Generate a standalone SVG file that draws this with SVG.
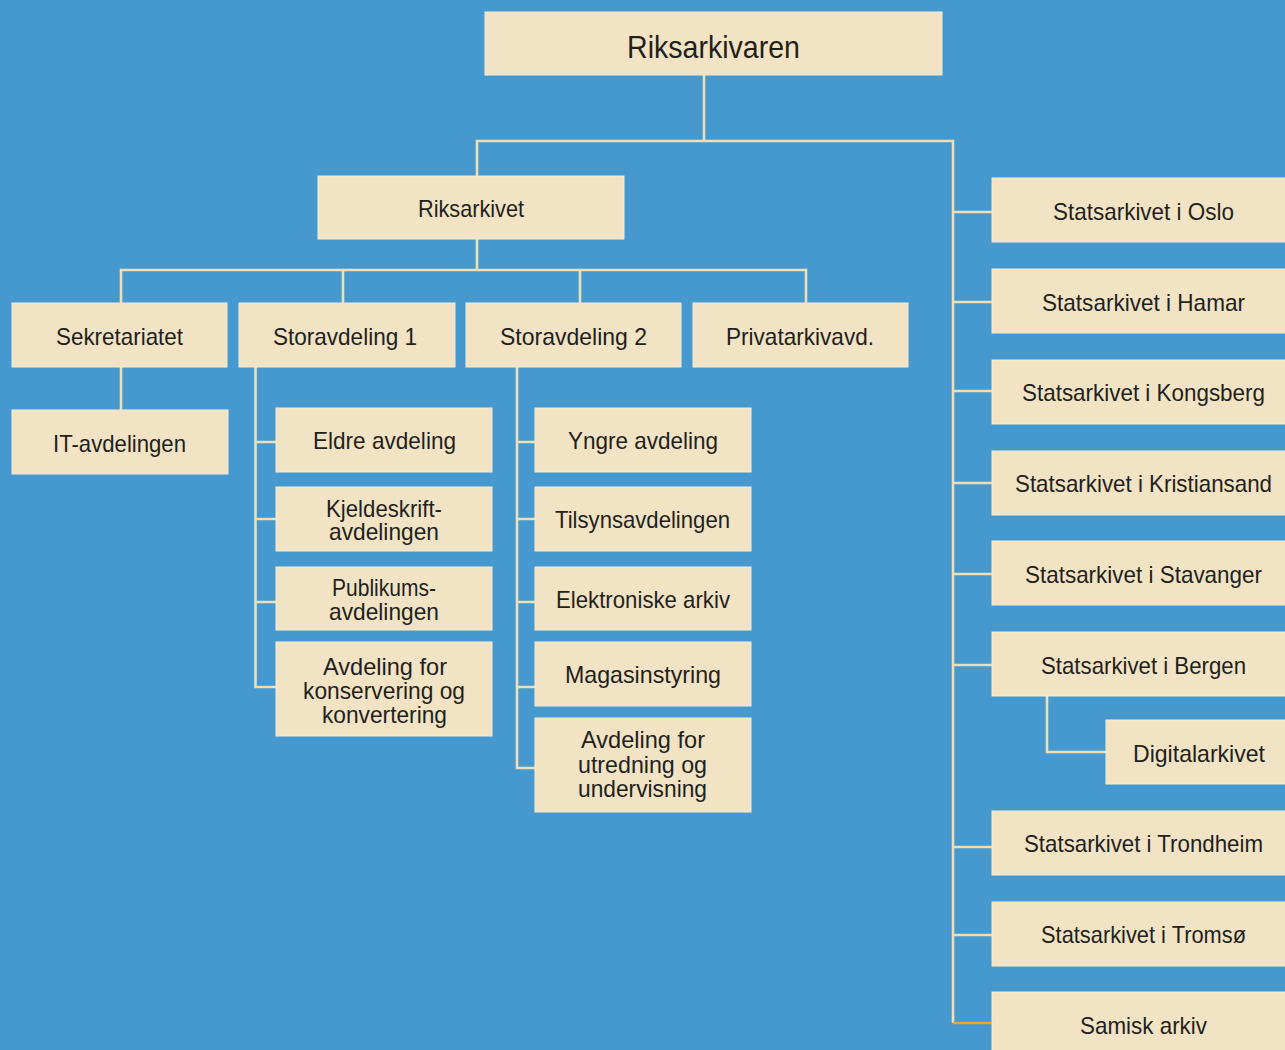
<svg xmlns="http://www.w3.org/2000/svg" width="1285" height="1050" viewBox="0 0 1285 1050">
<style>
.b{fill:#f1e3c4;stroke:#f6ecd4;stroke-width:1}
.t{font-family:"Liberation Sans",Arial,sans-serif;font-size:24px;fill:#231f1c;text-anchor:middle}
.big{font-size:32px}
.c{fill:none;stroke:#efdfb6;stroke-width:2.6}
</style>
<rect width="1285" height="1050" fill="#4599cf"/>
<g id="connectors">
<path class="c" d="M704 75V141M477 176V141H953V1023"/>
<path class="c" d="M477 239V270M121 303V270H806V303M343 270V303M580 270V303"/>
<path class="c" d="M121 367V410"/>
<path class="c" d="M255.5 367V687H276M255.5 442H276M255.5 519H276M255.5 602H276"/>
<path class="c" d="M517 367V768H535M517 442H535M517 519H535M517 602H535M517 687H535"/>
<path class="c" d="M953 212H992M953 302H992M953 391H992M953 483H992M953 574H992M953 665H992M953 847H992M953 935H992"/>
<path class="c" d="M1047 696V752H1106"/>
<path fill="none" stroke="#f0a334" stroke-width="2.6" d="M953 1023H992"/>
</g>
<g id="riksarkivaren"><rect class="b" x="485" y="12" width="457" height="63"/><text class="t big" x="713.5" y="58" textLength="173" lengthAdjust="spacingAndGlyphs">Riksarkivaren</text></g>
<g id="riksarkivet"><rect class="b" x="318" y="176" width="306" height="63"/><text class="t" x="471" y="217" textLength="106" lengthAdjust="spacingAndGlyphs">Riksarkivet</text></g>
<g id="sekretariatet"><rect class="b" x="12" y="303" width="215" height="64"/><text class="t" x="119.5" y="345" textLength="127" lengthAdjust="spacingAndGlyphs">Sekretariatet</text></g>
<g id="storavdeling1"><rect class="b" x="239" y="303" width="216" height="64"/><text class="t" x="345" y="345" textLength="144" lengthAdjust="spacingAndGlyphs">Storavdeling 1</text></g>
<g id="storavdeling2"><rect class="b" x="466" y="303" width="215" height="64"/><text class="t" x="573.5" y="345" textLength="147" lengthAdjust="spacingAndGlyphs">Storavdeling 2</text></g>
<g id="privatarkivavd"><rect class="b" x="693" y="303" width="215" height="64"/><text class="t" x="800" y="345" textLength="148" lengthAdjust="spacingAndGlyphs">Privatarkivavd.</text></g>
<g id="it-avdelingen"><rect class="b" x="12" y="410" width="216" height="64"/><text class="t" x="119.5" y="452" textLength="133" lengthAdjust="spacingAndGlyphs">IT-avdelingen</text></g>
<g id="eldre"><rect class="b" x="276" y="408" width="216" height="64"/><text class="t" x="384.5" y="449" textLength="143" lengthAdjust="spacingAndGlyphs">Eldre avdeling</text></g>
<g id="kjeldeskrift"><rect class="b" x="276" y="487" width="216" height="64"/><text class="t" x="384" y="517" textLength="116" lengthAdjust="spacingAndGlyphs">Kjeldeskrift-</text><text class="t" x="384" y="540" textLength="110" lengthAdjust="spacingAndGlyphs">avdelingen</text></g>
<g id="publikums"><rect class="b" x="276" y="567" width="216" height="63"/><text class="t" x="384" y="596" textLength="104" lengthAdjust="spacingAndGlyphs">Publikums-</text><text class="t" x="384" y="620" textLength="110" lengthAdjust="spacingAndGlyphs">avdelingen</text></g>
<g id="konservering"><rect class="b" x="276" y="642" width="216" height="94"/><text class="t" x="385" y="675" textLength="124" lengthAdjust="spacingAndGlyphs">Avdeling for</text><text class="t" x="384" y="699" textLength="162" lengthAdjust="spacingAndGlyphs">konservering og</text><text class="t" x="384.5" y="723" textLength="125" lengthAdjust="spacingAndGlyphs">konvertering</text></g>
<g id="yngre"><rect class="b" x="535" y="408" width="216" height="64"/><text class="t" x="643" y="449" textLength="150" lengthAdjust="spacingAndGlyphs">Yngre avdeling</text></g>
<g id="tilsyn"><rect class="b" x="535" y="487" width="216" height="64"/><text class="t" x="642.5" y="528" textLength="175" lengthAdjust="spacingAndGlyphs">Tilsynsavdelingen</text></g>
<g id="elektroniske"><rect class="b" x="535" y="567" width="216" height="63"/><text class="t" x="643" y="608" textLength="174" lengthAdjust="spacingAndGlyphs">Elektroniske arkiv</text></g>
<g id="magasin"><rect class="b" x="535" y="642" width="216" height="64"/><text class="t" x="643" y="683" textLength="156" lengthAdjust="spacingAndGlyphs">Magasinstyring</text></g>
<g id="utredning"><rect class="b" x="535" y="718" width="216" height="94"/><text class="t" x="643" y="748" textLength="124" lengthAdjust="spacingAndGlyphs">Avdeling for</text><text class="t" x="642.5" y="773" textLength="129" lengthAdjust="spacingAndGlyphs">utredning og</text><text class="t" x="642.5" y="797" textLength="129" lengthAdjust="spacingAndGlyphs">undervisning</text></g>
<g id="oslo"><rect class="b" x="992" y="178" width="303" height="64"/><text class="t" x="1143.5" y="220" textLength="181" lengthAdjust="spacingAndGlyphs">Statsarkivet i Oslo</text></g>
<g id="hamar"><rect class="b" x="992" y="269" width="303" height="64"/><text class="t" x="1143.5" y="311" textLength="203" lengthAdjust="spacingAndGlyphs">Statsarkivet i Hamar</text></g>
<g id="kongsberg"><rect class="b" x="992" y="360" width="303" height="64"/><text class="t" x="1143.5" y="401" textLength="243" lengthAdjust="spacingAndGlyphs">Statsarkivet i Kongsberg</text></g>
<g id="kristiansand"><rect class="b" x="992" y="451" width="303" height="64"/><text class="t" x="1143.5" y="492" textLength="257" lengthAdjust="spacingAndGlyphs">Statsarkivet i Kristiansand</text></g>
<g id="stavanger"><rect class="b" x="992" y="541" width="303" height="64"/><text class="t" x="1143.5" y="583" textLength="237" lengthAdjust="spacingAndGlyphs">Statsarkivet i Stavanger</text></g>
<g id="bergen"><rect class="b" x="992" y="632" width="303" height="64"/><text class="t" x="1143.5" y="674" textLength="205" lengthAdjust="spacingAndGlyphs">Statsarkivet i Bergen</text></g>
<g id="digitalarkivet"><rect class="b" x="1106" y="720" width="189" height="64"/><text class="t" x="1199" y="762" textLength="132" lengthAdjust="spacingAndGlyphs">Digitalarkivet</text></g>
<g id="trondheim"><rect class="b" x="992" y="811" width="303" height="64"/><text class="t" x="1143.5" y="852" textLength="239" lengthAdjust="spacingAndGlyphs">Statsarkivet i Trondheim</text></g>
<g id="tromso"><rect class="b" x="992" y="902" width="303" height="64"/><text class="t" x="1143.5" y="943" textLength="205" lengthAdjust="spacingAndGlyphs">Statsarkivet i Tromsø</text></g>
<g id="samisk"><rect class="b" x="992" y="992" width="303" height="70"/><text class="t" x="1143.5" y="1034" textLength="127" lengthAdjust="spacingAndGlyphs">Samisk arkiv</text></g>
</svg>
